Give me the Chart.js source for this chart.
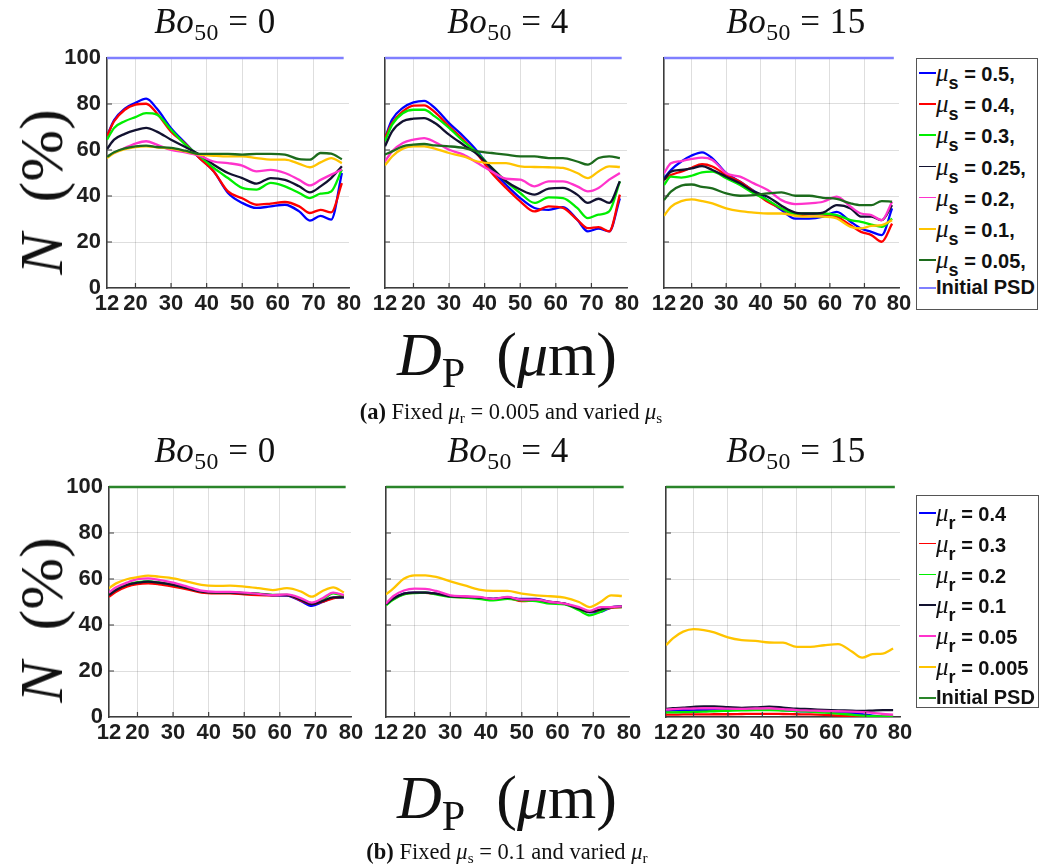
<!DOCTYPE html>
<html>
<head>
<meta charset="utf-8">
<script src="https://cdn.jsdelivr.net/npm/chart.js@4.4.0/dist/chart.umd.min.js"></script>
<style>
  body { margin: 0; width: 1040px; height: 864px; background: #fff; position: relative; overflow: hidden; }
  .pane { position: absolute; }
  .tex { position: absolute; font-family: "Liberation Serif", "Times New Roman", serif; color: #111; white-space: nowrap; line-height: 1; }
  .tex sub { font-size: 0.68em; vertical-align: -0.28em; line-height: 0; }
  .tex .gap { display: inline-block; width: 0.5em; }
  .ttl { font-size: 35px; letter-spacing: 0.5px; transform: translateX(-50%); }
  .big { font-size: 62px; }
  .cap { font-size: 22.5px; transform: translateX(-50%); }
  .legend { position: absolute; border: 1.3px solid #555; background: #fff; box-sizing: border-box; }
  .lrow { position: absolute; left: 0; height: 0; white-space: nowrap; font-family: "Liberation Sans", Arial, sans-serif; font-weight: bold; font-size: 20px; color: #111; }
  .lrow .ln { position: absolute; left: 2px; top: -1px; width: 17px; height: 1.6px; }
  .lrow .tx { position: absolute; left: 19px; top: -14px; }
  .lrow .mu { font-family: "Liberation Serif", serif; font-style: italic; font-weight: normal; font-size: 25px; }
  .lrow .sb { font-size: 18px; position: relative; top: 8px; }
</style>
</head>
<body>
<script>
// particle diameter D_P (um) where N(%) was sampled
const dp = [12, 14, 17, 20, 23, 26, 30, 34, 38, 42, 46, 50, 54, 58, 62, 66, 69, 72, 75, 78];
const xTicks = [12, 20, 30, 40, 50, 60, 70, 80];
const yTicks = [0, 20, 40, 60, 80, 100];
const boValues = ['0', '4', '15'];

// initial PSD is flat at 100 %
const psdX = [12, 78.5];
const psdN = [100, 100];

// (a) mu_r = 0.005, mu_s varied
const musLabels = ['0.5', '0.4', '0.3', '0.25', '0.2', '0.1', '0.05'];
const musColors = ['#0000ff', '#ff0000', '#00ee00', '#121230', '#ff33cc', '#ffc400', '#1c6b1c'];
const sBo0 = [
  [66, 73, 78, 80.5, 82.3, 78, 69.5, 63, 56.5, 50.7, 41.3, 37, 34.8, 35.5, 36.2, 33.3, 29.3, 31.4, 29.7, 50],
  [66, 72.5, 77.5, 79.7, 80.1, 76, 68, 62.7, 56.5, 50.7, 42, 39, 36.2, 36.7, 37.4, 35.5, 32.6, 34, 32.9, 45.6],
  [64.5, 69.6, 72.5, 74.3, 76, 75.4, 68.8, 62.3, 57.5, 52.2, 47.8, 43.5, 42.8, 45.7, 44.2, 41.3, 39.1, 41, 42, 51.5],
  [60.4, 64.5, 67, 68.6, 69.6, 68, 64.5, 61.3, 58, 53.6, 50, 47.8, 45.4, 47.8, 47, 44.2, 41.6, 44.2, 47.8, 52.9],
  [57, 58.7, 60.9, 62.8, 63.8, 62.3, 60, 59, 57.5, 55, 54.3, 53.2, 50.7, 51.4, 50, 47, 44.6, 47, 49.3, 51.5],
  [56.5, 58.7, 60.4, 61.3, 61.6, 61.2, 60.6, 59.4, 58, 57.5, 57.2, 57.2, 56.5, 55.8, 55.8, 54, 52.5, 54.6, 56.5, 54.3],
  [57, 59, 60.7, 61.6, 61.9, 61.3, 60.9, 59.7, 58.3, 58.3, 58.3, 58, 58.3, 58.3, 58, 56, 55.8, 58.7, 58.4, 56]
];
const sBo4 = [
  [65.2, 73.2, 78.3, 80.7, 81.4, 78.3, 71.7, 66, 59.4, 51.4, 44.9, 39.1, 34.8, 34, 35.2, 29.7, 24.6, 25.8, 24.6, 39],
  [65.2, 71.7, 76.8, 79.3, 79.4, 76.5, 70.3, 64.5, 58, 50, 43.5, 37.7, 33.3, 35.5, 34.8, 29.7, 26, 26.5, 24.6, 40.6],
  [63.8, 71, 76, 77.5, 77.5, 74.6, 69.6, 63.8, 58.7, 52.2, 46.4, 41.3, 37, 39.4, 39.1, 34.8, 30.4, 31.9, 33.3, 46.4],
  [61.6, 68.1, 72.5, 73.6, 73.9, 71.7, 66.7, 62.3, 58, 52.2, 46.4, 42.8, 40.6, 43.2, 43.5, 40.6, 37, 38.8, 37, 46.4],
  [55, 59.4, 63, 64.5, 65.2, 63.5, 60.1, 58, 54.3, 50.7, 47.5, 47.1, 44.2, 46.4, 46.4, 44.2, 42, 43.5, 47.1, 50],
  [53.3, 57.2, 60.6, 61.6, 61.6, 60.6, 58.7, 57.2, 55, 54.3, 54.3, 52.9, 52.6, 52.5, 52.2, 50, 47.8, 50.7, 52.9, 52.6],
  [58, 59.4, 61.6, 62.3, 62.6, 62, 61.6, 60.9, 59.4, 58.7, 58, 57.2, 57.2, 56.5, 56.5, 55, 53.6, 56.5, 57.2, 56.5]
];
const sBo15 = [
  [47.7, 51.3, 55, 57.6, 59, 56.4, 49.9, 46.2, 42.2, 38.2, 33.9, 30.2, 30.2, 31, 33.1, 28.8, 25.9, 24.4, 23, 34.6],
  [47, 49.1, 50.6, 52.3, 53.8, 52.8, 49.1, 46.2, 41.9, 37.5, 34.6, 31.7, 32, 32, 31, 27.3, 24.4, 23, 20.1, 28],
  [44.8, 48.4, 48, 48.8, 50.3, 50.6, 47.7, 44.8, 41.1, 38.2, 34.6, 32.4, 32.4, 32.4, 31.7, 29.5, 28.8, 27.6, 26.6, 30.2],
  [47, 50.6, 51.3, 52, 53, 51.3, 48.4, 45.5, 41.9, 39.7, 35.8, 32.8, 32.4, 32.8, 36, 34.6, 31, 31, 29.5, 36],
  [49.9, 54.2, 55.2, 56.1, 56.7, 55.7, 49.9, 48.4, 45.5, 42.6, 38.2, 36.5, 36.8, 37.5, 39.7, 35.3, 32.4, 31.7, 29.5, 37.5],
  [31.4, 35.3, 37.8, 38.5, 37.8, 36.8, 34.6, 33.4, 32.8, 32.4, 32.4, 31.4, 31, 31, 30.2, 26.6, 25.9, 27, 27.3, 29.5],
  [38.2, 41.9, 44.5, 45, 44, 43.3, 41.1, 40.1, 40.4, 41.1, 41.6, 40.1, 40.1, 39.2, 38.7, 36.8, 36, 36, 37.8, 37.5]
];

// (b) mu_s = 0.1, mu_r varied
const murLabels = ['0.4', '0.3', '0.2', '0.1', '0.05', '0.005'];
const murColors = ['#0000ff', '#ff0000', '#00ee00', '#121230', '#ff33cc', '#ffc400'];
const rBo0 = [
  [53, 55, 57.2, 58.3, 58.8, 58.3, 57.3, 55.9, 54.4, 54, 54, 53.7, 53.4, 52.9, 52.8, 50.3, 48.3, 50, 51.8, 52],
  [52.3, 54.5, 56.7, 57.8, 58.1, 57.7, 56.7, 55.5, 54.1, 53.8, 53.8, 53.3, 53, 52.9, 53, 50.6, 49.1, 50.1, 51.6, 52.3],
  [53.2, 55.4, 57.6, 58.6, 59, 58.5, 57.5, 56.1, 54.6, 54.2, 54.2, 53.9, 53.6, 53.1, 53.1, 51.2, 49.5, 51, 53.8, 52.6],
  [53, 55.2, 57.4, 58.4, 58.9, 58.4, 57.4, 56, 54.5, 54.1, 54.1, 53.8, 53.5, 53, 53, 50.9, 49.1, 50.4, 52, 52],
  [54.1, 56.4, 58.4, 59.9, 60.3, 59.6, 58.4, 56.7, 54.9, 54.4, 54.4, 54.1, 53.5, 53, 53.3, 51.6, 49.7, 51.6, 54.1, 53],
  [56, 58.1, 59.9, 60.8, 61.5, 61, 60.3, 58.9, 57.4, 57, 57.1, 56.7, 56, 55.2, 56, 54.5, 52.3, 54.8, 56.4, 54.1]
];
const rBo4 = [
  [49, 51.4, 53.6, 54.1, 54.1, 53.6, 52.5, 52.2, 51.9, 51.4, 51.9, 51.3, 51.4, 50, 49.3, 47, 45.5, 45.7, 47.6, 48.1],
  [49, 51.2, 53.4, 54, 54, 53.5, 52.4, 52, 51.7, 51.2, 51.7, 50.4, 50.6, 50, 49.2, 47, 45.8, 46.5, 47.5, 47.8],
  [48.6, 51, 53.3, 53.9, 54.1, 53.3, 52.2, 51.9, 51.4, 50.7, 51.4, 50.7, 50.4, 49.3, 49, 46.4, 44.2, 45.7, 47.8, 47.8],
  [49, 51.4, 53.6, 54.1, 54.1, 53.6, 52.5, 52.2, 51.9, 51.4, 51.9, 51, 51, 49.9, 49.3, 47.1, 45.7, 46.7, 47.8, 48.1],
  [49.3, 52.5, 55, 55.8, 55.7, 54.8, 52.9, 52.5, 52.2, 51.4, 52.2, 51, 51, 50, 49.3, 47.8, 46.1, 47.8, 47.8, 48.1],
  [53.3, 55.8, 60.1, 61.6, 61.6, 60.9, 59, 57.2, 55.4, 54.8, 54.8, 53.6, 52.9, 52.5, 51.9, 50, 47.8, 50, 52.9, 52.6]
];
const rBo15 = [
  [2.8, 2.9, 3, 3, 3.1, 3.2, 3.2, 3.2, 3.2, 3.3, 3, 2.6, 2.4, 2.2, 2, 1.8, 1.2, 0.6, 0.2, 0.2],
  [1, 1, 1.1, 1.1, 1.1, 1.2, 1.2, 1.3, 1.4, 1.4, 1.3, 1.2, 1.1, 0.9, 0.6, 0.3, 0.1, 0, 0, 0],
  [2, 2, 2.1, 2.2, 2.3, 2.5, 2.7, 2.9, 3, 3, 2.8, 2.6, 2.3, 1.9, 1.5, 1, 0.6, 0.4, 0.3, 0.3],
  [3.5, 3.8, 4.1, 4.4, 4.6, 4.6, 4.3, 4, 4.2, 4.5, 4.1, 3.6, 3.4, 3.1, 2.9, 2.8, 2.6, 2.8, 3, 3],
  [3.2, 3.4, 3.6, 3.7, 3.8, 3.8, 3.6, 3.5, 3.7, 3.8, 3.4, 3, 2.8, 2.6, 2.5, 2.3, 2.1, 1.8, 1.3, 1],
  [31.2, 34.2, 37.1, 38.2, 37.8, 36.8, 34.6, 33.4, 33.1, 32.4, 32.3, 30.5, 30.5, 31.2, 31.7, 28.5, 25.8, 27.3, 27.6, 29.8]
];

const psdColorTop = '#7f7fff';
const psdColorBot = '#2a852a';

// plot boxes (chart area in page px)
const topBoxes = [
  { l: 107, r: 349, t: 58, b: 288 },
  { l: 385, r: 627, t: 58, b: 288 },
  { l: 664, r: 899, t: 58, b: 288 }
];
const botBoxes = [
  { l: 109, r: 351, t: 487, b: 717 },
  { l: 386, r: 629, t: 487, b: 717 },
  { l: 666, r: 900, t: 487, b: 717 }
];

const axisColor = '#3c3c3c';
const tickFont = { family: '"Liberation Sans", Arial, sans-serif', size: 22, weight: 'bold' };

// matlab style ticks pointing into the plot
const innerTicks = {
  id: 'innerTicks',
  afterDraw(chart) {
    const { ctx, chartArea: a, scales } = chart;
    ctx.save();
    ctx.strokeStyle = axisColor;
    ctx.lineWidth = 1.2;
    ctx.beginPath();
    scales.x.ticks.forEach(t => {
      if (t.value > 12 && t.value < 80) {
        const px = scales.x.getPixelForValue(t.value);
        ctx.moveTo(px, a.bottom);
        ctx.lineTo(px, a.bottom - 5);
      }
    });
    scales.y.ticks.forEach(t => {
      if (t.value > 0 && t.value < 100) {
        const py = scales.y.getPixelForValue(t.value);
        ctx.moveTo(a.left, py);
        ctx.lineTo(a.left + 5, py);
      }
    });
    ctx.stroke();
    ctx.restore();
  }
};

function makePanel(box, series, colors, psdColor, showY) {
  const yW = showY ? 52 : 24, padT = 14, padR = 18, xH = 34;
  const wrap = document.createElement('div');
  wrap.className = 'pane';
  wrap.style.left = (box.l - yW) + 'px';
  wrap.style.top = (box.t - padT) + 'px';
  wrap.style.width = (box.r - box.l + yW + padR) + 'px';
  wrap.style.height = (box.b - box.t + padT + xH) + 'px';
  const cv = document.createElement('canvas');
  wrap.appendChild(cv);
  document.body.appendChild(wrap);

  const datasets = series.map((vals, i) => ({
    data: vals.map((v, k) => ({ x: dp[k], y: v })),
    borderColor: colors[i],
    borderWidth: 2.3,
    order: -i
  }));
  datasets.push({
    data: psdX.map((v, k) => ({ x: v, y: psdN[k] })),
    borderColor: psdColor,
    borderWidth: 2.4,
    clip: false,
    order: -series.length
  });

  new Chart(cv, {
    type: 'line',
    data: { datasets },
    plugins: [innerTicks],
    options: {
      responsive: true,
      maintainAspectRatio: false,
      animation: false,
      layout: { padding: { top: padT, right: padR, left: 0, bottom: 0 } },
      elements: {
        point: { radius: 0 },
        line: { cubicInterpolationMode: 'monotone', fill: false }
      },
      plugins: { legend: { display: false }, tooltip: { enabled: false } },
      scales: {
        x: {
          type: 'linear',
          min: 12,
          max: 80,
          afterBuildTicks: s => { s.ticks = xTicks.map(v => ({ value: v })); },
          afterFit: s => { s.height = xH; s.paddingLeft = 0; s.paddingRight = 0; },
          ticks: { autoSkip: false, maxRotation: 0, minRotation: 0, padding: 3, color: '#1e1e1e', font: tickFont },
          grid: {
            drawTicks: false,
            color: c => (c.tick && (c.tick.value === 12 || c.tick.value === 80)) ? 'rgba(0,0,0,0)' : 'rgba(0,0,0,0.13)'
          },
          border: { color: axisColor, width: 1.6 }
        },
        y: {
          min: 0,
          max: 100,
          afterBuildTicks: s => { s.ticks = yTicks.map(v => ({ value: v })); },
          afterFit: s => { s.width = yW; s.paddingTop = 0; s.paddingBottom = 0; },
          ticks: { display: showY, padding: 6, color: '#1e1e1e', font: tickFont },
          grid: { drawTicks: false, color: c => (c.tick && c.tick.value === 100) ? 'rgba(0,0,0,0)' : 'rgba(0,0,0,0.13)' },
          border: { color: axisColor, width: 1.6 }
        }
      }
    }
  });
}

const topSeries = [sBo0, sBo4, sBo15];
const botSeries = [rBo0, rBo4, rBo15];
topBoxes.forEach((b, i) => makePanel(b, topSeries[i], musColors, psdColorTop, i === 0));
botBoxes.forEach((b, i) => makePanel(b, botSeries[i], murColors, psdColorBot, i === 0));

// text: panel titles, axis titles, captions
function addTex(html, cls, left, top, extra) {
  const d = document.createElement('div');
  d.className = 'tex ' + cls;
  d.innerHTML = html;
  d.style.left = left + 'px';
  d.style.top = top + 'px';
  if (extra) d.style.transform = extra;
  document.body.appendChild(d);
}
const titleX = [215, 508, 796];
boValues.forEach((v, i) => {
  addTex('<i>Bo</i><sub>50</sub> = ' + v, 'ttl', titleX[i], 4);
  addTex('<i>Bo</i><sub>50</sub> = ' + v, 'ttl', titleX[i], 433);
});
addTex('<i>N</i><span class="gap"></span>(%)', 'big', 41, 192, 'translate(-50%,-50%) rotate(-90deg)');
addTex('<i>N</i><span class="gap"></span>(%)', 'big', 41, 620, 'translate(-50%,-50%) rotate(-90deg)');
addTex('<i>D</i><sub>P</sub><span class="gap"></span>(<i>μ</i>m)', 'big', 507, 354, 'translate(-50%,-50%)');
addTex('<i>D</i><sub>P</sub><span class="gap"></span>(<i>μ</i>m)', 'big', 507, 797, 'translate(-50%,-50%)');
addTex('<b>(a)</b> Fixed <i>μ</i><sub>r</sub> = 0.005 and varied <i>μ</i><sub>s</sub>', 'cap', 511, 401);
addTex('<b>(b)</b> Fixed <i>μ</i><sub>s</sub> = 0.1 and varied <i>μ</i><sub>r</sub>', 'cap', 507, 841);

// legends
function addLegend(box, labels, colors, sub, comma, psdColor, rowTop, rowGap, psdTop) {
  const lg = document.createElement('div');
  lg.className = 'legend';
  lg.style.left = box.l + 'px';
  lg.style.top = box.t + 'px';
  lg.style.width = box.w + 'px';
  lg.style.height = box.h + 'px';
  labels.forEach((lab, i) => {
    const row = document.createElement('div');
    row.className = 'lrow';
    row.style.top = (rowTop + i * rowGap) + 'px';
    row.innerHTML = '<span class="ln" style="background:' + colors[i] + '"></span>' +
      '<span class="tx"><span class="mu">μ</span><span class="sb">' + sub + '</span> = ' + lab + comma + '</span>';
    lg.appendChild(row);
  });
  const row = document.createElement('div');
  row.className = 'lrow';
  row.style.top = psdTop + 'px';
  row.innerHTML = '<span class="ln" style="background:' + psdColor + '"></span><span class="tx" style="top:-12px">Initial PSD</span>';
  lg.appendChild(row);
  document.body.appendChild(lg);
}
addLegend({ l: 916, t: 58, w: 122, h: 252 }, musLabels, musColors, 's', ',', psdColorTop, 14, 31.2, 229);
addLegend({ l: 916, t: 495, w: 123, h: 213 }, murLabels, murColors, 'r', '', psdColorBot, 17, 30.8, 202);
</script>
</body>
</html>
